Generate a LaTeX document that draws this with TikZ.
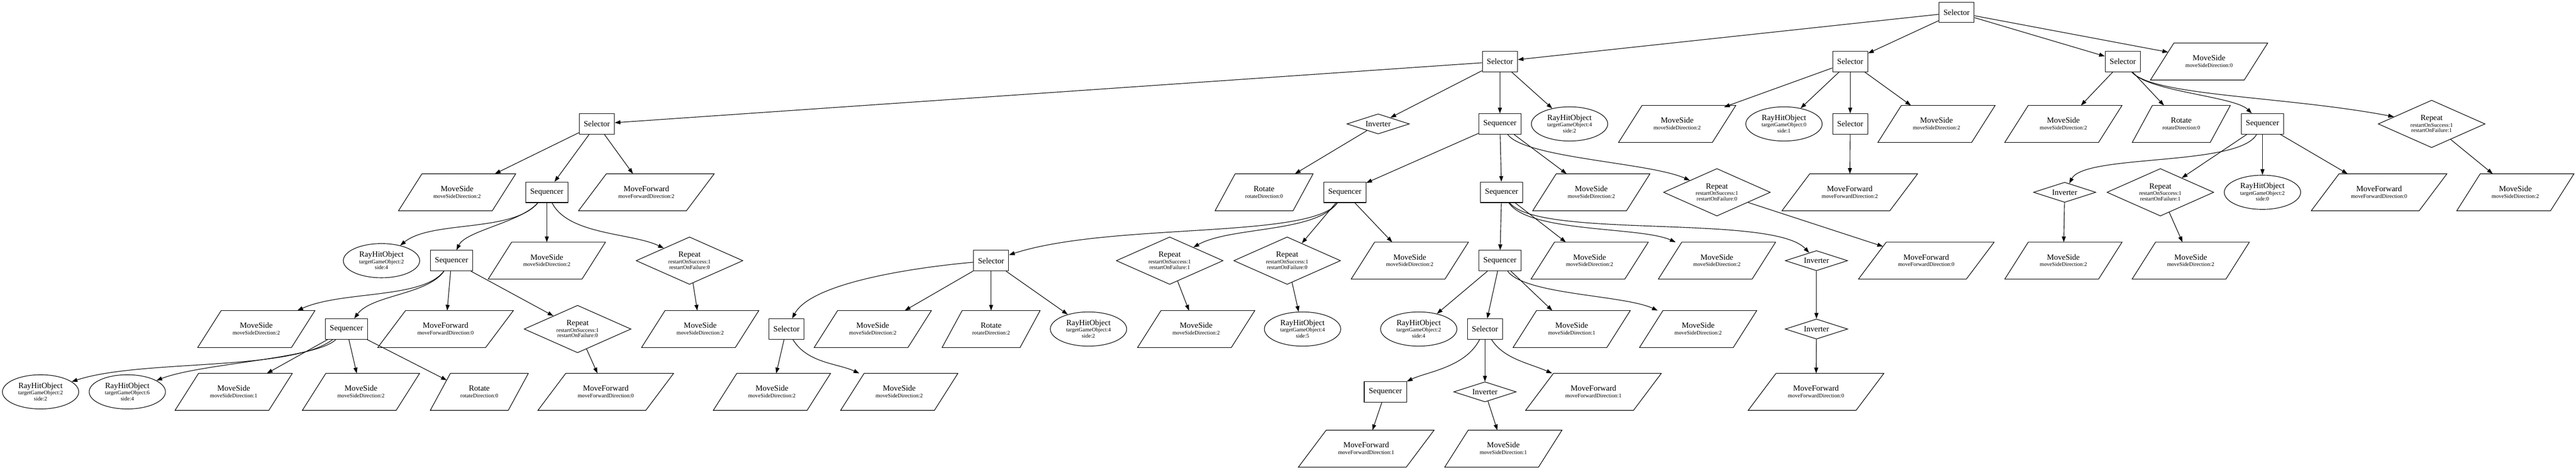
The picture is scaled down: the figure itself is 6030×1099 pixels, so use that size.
\documentclass[tikz,border=0pt]{standalone}
\usepackage{fontspec}
\setmainfont{Liberation Serif}
\usetikzlibrary{shapes.geometric,arrows.meta}
\newcommand\bmf{\fontsize{14}{14}\selectfont}
\newcommand\bsf{\fontsize{9.7}{9.7}\selectfont}
\newcommand\Lm[1]{\hbox{\bmf\rule[-3.5pt]{0pt}{13.5pt}#1}}
\newcommand\Ls[1]{\hbox{\bsf\rule[-1.5pt]{0pt}{9.5pt}#1}}
\newcommand\TwoL[2]{\vbox{\offinterlineskip\halign{\hfil##\hfil\cr\Lm{#1}\cr\Ls{#2}\cr}}}
\newcommand\ThreeL[3]{\vbox{\offinterlineskip\halign{\hfil##\hfil\cr\Lm{#1}\cr\Ls{#2}\cr\Ls{#3}\cr}}}
\newcommand\MSt[1]{\TwoL{MoveSide}{moveSideDirection:#1}}
\newcommand\MFt[1]{\TwoL{MoveForward}{moveForwardDirection:#1}}
\newcommand\RTt[1]{\TwoL{Rotate}{rotateDirection:#1}}
\newcommand\RHt[2]{\ThreeL{RayHitObject}{targetGameObject:#1}{side:#2}}
\newcommand\RPt[2]{\ThreeL{Repeat}{restartOnSuccess:#1}{restartOnFailure:#2}}
\begin{document}
\begin{tikzpicture}[x=0.75pt,y=-0.75pt,
  box/.style={draw, rectangle, line width=1pt, minimum height=36pt, minimum width=54pt, inner xsep=8pt, inner ysep=0pt, font=\bmf},
  inv/.style={draw, diamond, line width=1pt, aspect=3, minimum width=109.5pt, minimum height=35.25pt, inner sep=0pt, font=\bmf},
  rep/.style={draw, diamond, line width=1pt, aspect=2.25, minimum width=187.5pt, minimum height=83.25pt, inner sep=0pt},
  rhit/.style={draw, ellipse, line width=1pt, minimum width=134pt, minimum height=60pt, inner sep=0pt},
  msn/.style={rectangle, minimum width=164.25pt, minimum height=64.5pt, inner sep=0pt},
  mfn/.style={rectangle, minimum width=189pt, minimum height=64.5pt, inner sep=0pt},
  rtn/.style={rectangle, minimum width=136.5pt, minimum height=64.5pt, inner sep=0pt},
  pgon/.style={line width=1pt, line join=miter},
  conn/.style={line width=1pt, -{Triangle[length=10pt,width=7pt]}}
]
\fill[white] (0,0) rectangle (6030,1099);
\useasboundingbox (0,0) rectangle (6030,1099);
% rank 0
\node[box] (T) at (4580,29) {Selector};
% rank 1
\node[box] (s1) at (3511,144) {Selector};
\node[box] (s2) at (4331,144) {Selector};
\node[box] (s3) at (4969,144) {Selector};
\node[msn] (ms0) at (5171,144) {\MSt{0}};
% rank 2
\node[box] (a1) at (1397,290) {Selector};
\node[inv] (a2) at (3226,290) {Inverter};
\node[box] (a3) at (3511,290) {Sequencer};
\node[rhit] (a4) at (3674,290) {\RHt{4}{2}};
\node[msn] (a5) at (3926,290) {\MSt{2}};
\node[rhit] (a6) at (4176,290) {\RHt{0}{1}};
\node[box] (a7) at (4331,290) {Selector};
\node[msn] (a8) at (4533,290) {\MSt{2}};
\node[msn] (a9) at (4830,290) {\MSt{2}};
\node[rtn] (a10) at (5106,290) {\RTt{0}};
\node[box] (a11) at (5296,290) {Sequencer};
\node[rep] (a12) at (5692,290) {\RPt{1}{1}};
% rank 3
\node[msn] (b1) at (1070,450) {\MSt{2}};
\node[box] (b2) at (1280,450) {Sequencer};
\node[mfn] (b3) at (1513,450) {\MFt{2}};
\node[rtn] (b4) at (2959,450) {\RTt{0}};
\node[box] (b5) at (3148,450) {Sequencer};
\node[box] (b6) at (3515,450) {Sequencer};
\node[msn] (b7) at (3725,450) {\MSt{2}};
\node[rep] (b8) at (4019,450) {\RPt{1}{0}};
\node[mfn] (b9) at (4330,450) {\MFt{2}};
\node[inv] (b10) at (4833,450) {Inverter};
\node[rep] (b11) at (5057,450) {\RPt{1}{1}};
\node[rhit] (b12) at (5296,450) {\RHt{2}{0}};
\node[mfn] (b13) at (5569,450) {\MFt{0}};
\node[msn] (b14) at (5888,450) {\MSt{2}};
% rank 4
\node[rhit] (c1) at (893,610) {\RHt{2}{4}};
\node[box] (c2) at (1057,610) {Sequencer};
\node[msn] (c3) at (1280,610) {\MSt{2}};
\node[rep] (c4) at (1614,610) {\RPt{1}{0}};
\node[box] (c5) at (2320,610) {Selector};
\node[rep] (c6) at (2738,610) {\RPt{1}{1}};
\node[rep] (c7) at (3013,610) {\RPt{1}{0}};
\node[msn] (c8) at (3300,610) {\MSt{2}};
\node[box] (c9) at (3511,610) {Sequencer};
\node[msn] (c10) at (3721,610) {\MSt{2}};
\node[msn] (c11) at (4019,610) {\MSt{2}};
\node[inv] (c12) at (4252,610) {Inverter};
\node[mfn] (c13) at (4509,610) {\MFt{0}};
\node[msn] (c14) at (4830,610) {\MSt{2}};
\node[msn] (c15) at (5128,610) {\MSt{2}};
% rank 5
\node[msn] (d1) at (600,770) {\MSt{2}};
\node[box] (d2) at (811,770) {Sequencer};
\node[mfn] (d3) at (1043,770) {\MFt{0}};
\node[rep] (d4) at (1352,770) {\RPt{1}{0}};
\node[msn] (d5) at (1639,770) {\MSt{2}};
\node[box] (d6) at (1841,770) {Selector};
\node[msn] (d7) at (2043,770) {\MSt{2}};
\node[rtn] (d8) at (2320,770) {\RTt{2}};
\node[rhit] (d9) at (2548,770) {\RHt{4}{2}};
\node[msn] (d10) at (2800,770) {\MSt{2}};
\node[rhit] (d11) at (3049,770) {\RHt{4}{5}};
\node[rhit] (d12) at (3321,770) {\RHt{2}{4}};
\node[box] (d13) at (3476,770) {Selector};
\node[msn] (d14) at (3679,770) {\MSt{1}};
\node[msn] (d15) at (3975,770) {\MSt{2}};
\node[inv] (d16) at (4252,770) {Inverter};
% rank 6
\node[rhit] (e1) at (95,917) {\RHt{2}{2}};
\node[rhit] (e2) at (298,917) {\RHt{6}{4}};
\node[msn] (e3) at (547,917) {\MSt{1}};
\node[msn] (e4) at (845,917) {\MSt{2}};
\node[rtn] (e5) at (1122,917) {\RTt{0}};
\node[mfn] (e6) at (1418,917) {\MFt{0}};
\node[msn] (e7) at (1807,917) {\MSt{2}};
\node[msn] (e8) at (2105,917) {\MSt{2}};
\node[box] (e9) at (3243,917) {Sequencer};
\node[inv] (e10) at (3476,917) {Inverter};
\node[mfn] (e11) at (3730,917) {\MFt{1}};
\node[mfn] (e12) at (4251,917) {\MFt{0}};
% rank 7
\node[mfn] (f1) at (3198,1050) {\MFt{1}};
\node[msn] (f2) at (3519,1050) {\MSt{1}};
% parallelogram outlines
\foreach \nn in {ms0,a5,a8,a9,b1,b7,b14,c3,c8,c10,c11,c14,c15,d1,d5,d7,d10,d14,d15,e3,e4,e7,e8,f2}
  \draw[pgon] ([xshift=20.6pt]\nn.north west) -- ([xshift=20.6pt]\nn.north east) -- ([xshift=-20.6pt]\nn.south east) -- ([xshift=-20.6pt]\nn.south west) -- cycle;
\foreach \nn in {b3,b9,b13,c13,d3,e6,e11,e12,f1}
  \draw[pgon] ([xshift=24.4pt]\nn.north west) -- ([xshift=24.4pt]\nn.north east) -- ([xshift=-24.4pt]\nn.south east) -- ([xshift=-24.4pt]\nn.south west) -- cycle;
\foreach \nn in {a10,b4,d8,e5}
  \draw[pgon] ([xshift=17.6pt]\nn.north west) -- ([xshift=17.6pt]\nn.north east) -- ([xshift=-17.6pt]\nn.south east) -- ([xshift=-17.6pt]\nn.south west) -- cycle;
% straight connectors
\foreach \pa/\ch in {T/s1,T/s2,T/s3,s1/a1,s1/a2,s1/a3,s1/a4,s2/a5,s2/a6,s2/a7,s2/a8,s3/a9,s3/a10,
  a1/b1,a1/b2,a1/b3,a2/b4,a3/b5,a3/b6,a3/b7,a7/b9,a11/b11,a11/b12,a11/b13,a12/b14,
  b2/c3,b5/c7,b5/c8,b6/c9,b6/c10,b10/c14,b11/c15,
  c2/d3,c2/d4,c4/d5,c5/d7,c5/d8,c5/d9,c6/d10,c7/d11,c9/d12,c9/d13,c9/d14,c12/d16,
  d2/e3,d2/e4,d4/e6,d6/e7,d13/e10,d16/e12,e9/f1,e10/f2}
  \draw[conn] (\pa) -- (\ch);
% connectors ending on slanted sides
\draw[conn] (T) -- ([xshift=10.5pt,yshift=-16pt]ms0.north west);
\draw[conn] (b8) -- ([xshift=18.75pt,yshift=-7.5pt]c13.north west);
\draw[conn] (d2) -- ([xshift=11.25pt,yshift=-12pt]e5.north west);
% curved connectors
\draw[conn] (s3) .. controls (5030,215) and (5230,225) .. (a11);
\draw[conn] (s3) .. controls (5040,225) and (5350,225) .. (a12);
\draw[conn] (a3) .. controls (3570,370) and (3860,380) .. (b8);
\draw[conn] (a11) .. controls (5240,390) and (4880,360) .. (b10);
\draw[conn] (b2) .. controls (1200,545) and (1010,515) .. (c1);
\draw[conn] (b2) .. controls (1220,520) and (1090,540) .. (c2);
\draw[conn] (b2) .. controls (1330,550) and (1480,545) .. (c4);
\draw[conn] (b5) .. controls (3070,560) and (2600,520) .. (c5);
\draw[conn] (b5) .. controls (3080,545) and (2880,530) .. (c6);
\draw[conn] (b6) .. controls (3580,545) and (3840,530) .. (c11);
\draw[conn] (b6) .. controls (3600,560) and (4150,500) .. (c12);
\draw[conn] (c2) .. controls (990,700) and (800,680) .. (d1);
\draw[conn] (c2) .. controls (1000,690) and (870,690) .. (d2);
\draw[conn] (c5) .. controls (2150,625) and (1900,660) .. (d6);
\draw[conn] (c9) .. controls (3570,690) and (3800,690) .. (d15);
\draw[conn] (d2) .. controls (680,870) and (330,840) .. (e1);
\draw[conn] (d2) .. controls (740,840) and (470,850) .. (e2);
\draw[conn] (d6) .. controls (1890,850) and (1960,850) .. (e8);
\draw[conn] (d13) .. controls (3430,860) and (3340,870) .. (e9);
\draw[conn] (d13) .. controls (3520,840) and (3580,850) .. (e11);
\end{tikzpicture}
\end{document}
